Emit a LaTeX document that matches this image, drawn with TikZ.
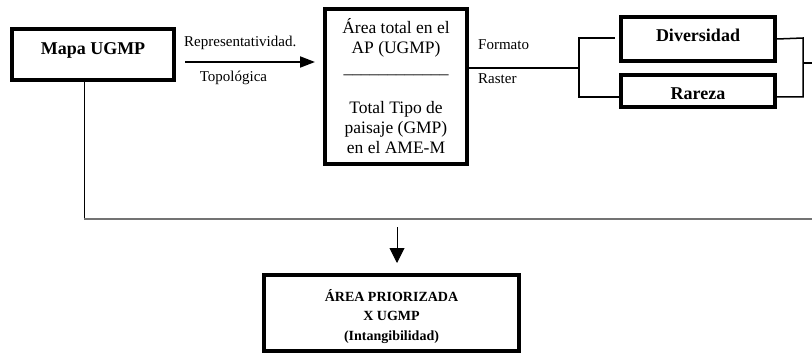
\documentclass[tikz,border=0pt]{standalone}
\usepackage{fontspec}
\setmainfont{Liberation Serif}
\usetikzlibrary{positioning, arrows.meta}

\begin{document}
\begin{tikzpicture}[
    x=1pt, y=-1pt,
    heavybox/.style={rectangle, draw=black, line width=4pt, text centered, font=\fontsize{18}{21}\selectfont\bfseries},
    mainbox/.style={rectangle, draw=black, line width=4pt, align=center, inner sep=0pt, font=\fontsize{17.5}{20}\selectfont},
    tag/.style={inner sep=0pt, font=\fontsize{15}{17}\selectfont},
    arrow/.style={line width=2pt, -{Triangle[length=15pt, width=11pt]}},
    link/.style={line width=1.5pt}
]
\useasboundingbox (0,0) rectangle (812,353);

% Boxes
\node (mapa) [heavybox, minimum width=162pt, minimum height=51pt, text depth=12pt] at (93,54.5) {Mapa UGMP};
\node (central) [mainbox, minimum width=142pt, minimum height=155pt] at (396,86.5) {Área total en el\\AP (UGMP)\\\_\_\_\_\_\_\_\_\_\_\_\_\\[20pt]Total Tipo de\\paisaje (GMP)\\en el AME-M};
\node (diversidad) [heavybox, minimum width=154pt, minimum height=44pt, text depth=7pt] at (698,39) {Diversidad};
\node (rareza) [heavybox, minimum width=154pt, minimum height=32pt, text height=18pt, below=10pt of diversidad] {Rareza};
\node (prior) [heavybox, minimum width=255pt, minimum height=76pt, align=center, inner sep=2pt, text height=58pt, font=\fontsize{14}{19.5}\selectfont\bfseries] at (391.5,313) {ÁREA PRIORIZADA\\X UGMP\\(Intangibilidad)};

% Mapa -> Area total
\coordinate (repstart) at (185,62);
\draw [arrow, shorten >=8pt] (repstart) -- (repstart -| central.west);
\node (rep) [tag, anchor=west] at (184,43) {Representatividad.};
\node (topo) [tag] at (233.5,78) {Topológica};

% Formato / Raster
\coordinate (split) at (579,68);
\draw [link] (central.east |- split) -- (split);
\node (formato) [tag, anchor=west] at (478,45) {Formato};
\node (raster) [tag, anchor=west] at (478,79) {Raster};

% Brackets
\coordinate (lt) at (579,38);
\coordinate (lb) at (579,97);
\draw [link, shorten >=4pt] (lb -| rareza.west) -- (lb) -- (lt) -- (lt -| diversidad.west);
\coordinate (rt) at (803,38);
\coordinate (rb) at (803,97);
\draw [link] (diversidad.east) -- (rt) -- (rb) -- (rareza.east |- rb);
\coordinate (outright) at (812,63);
\draw [link] (rt |- outright) -- (outright);

% Bottom line and arrow
\coordinate (corner) at (84,219);
\coordinate (edge) at (812,219);
\draw [line width=1pt] (mapa.south -| corner) -- (corner);
\draw [line width=1.5pt, black!55] (corner) -- (edge);
\coordinate (drop) at (397,227);
\draw [line width=1pt, -{Triangle[length=15pt, width=15pt]}, shorten >=10pt] (drop) -- (drop |- prior.north);

\end{tikzpicture}
\end{document}
